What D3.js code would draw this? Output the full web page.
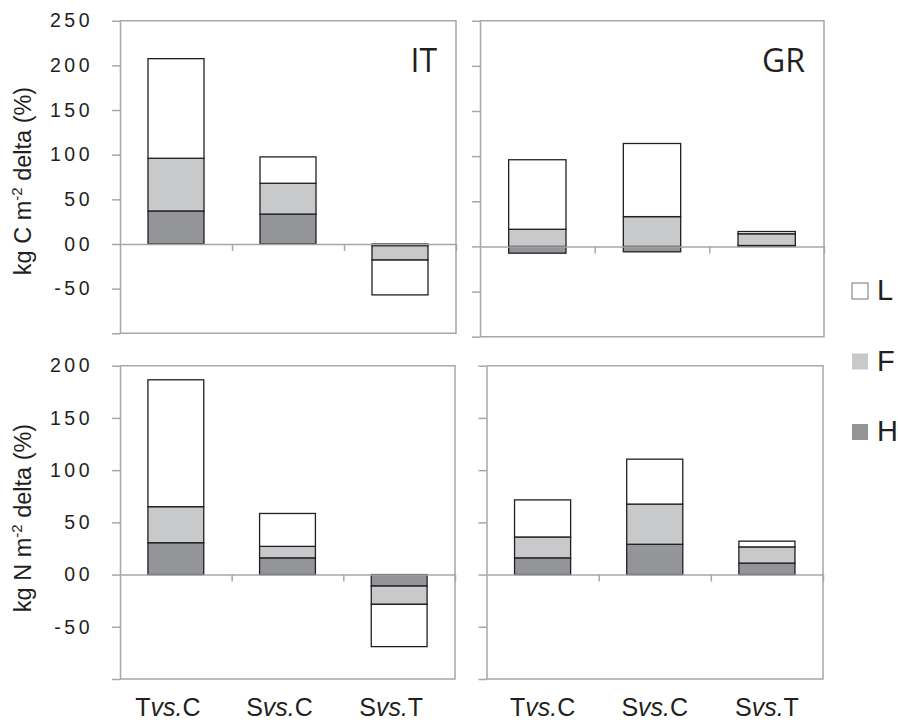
<!DOCTYPE html>
<html>
<head>
<meta charset="utf-8">
<script src="https://cdn.jsdelivr.net/npm/d3@7"></script>
<style>
  body { margin: 0; background: #fff; }
  svg { display: block; }
</style>
</head>
<body>
<svg id="chart" width="898" height="720"></svg>
<script>
const categories = ["Tvs.C", "Svs.C", "Svs.T"];
const keys = ["H", "F", "L"];

// carbon, Italy / Greece
const cIT_H = [37, 33.5, -2];
const cIT_F = [59, 34.5, -16];
const cIT_L = [111.5, 29.5, -39];
const cGR_H = [-7.5, -6, 1];
const cGR_F = [19, 33, 13];
const cGR_L = [77, 81, 2.5];

// nitrogen, Italy / Greece
const nIT_H = [30.5, 16, -11];
const nIT_F = [34.5, 11, -17.5];
const nIT_L = [121.5, 31.5, -40.5];
const nGR_H = [16, 29, 11];
const nGR_F = [20, 38.5, 15.5];
const nGR_L = [35.5, 43, 5.5];

const cTicks = [-100, -50, 0, 50, 100, 150, 200, 250];
const cTickLabels = ["", "-50", "00", "50", "100", "150", "200", "250"];
const nTicks = [-100, -50, 0, 50, 100, 150, 200];
const nTickLabels = ["", "-50", "00", "50", "100", "150", "200"];

const colors = { H: "#939598", F: "#c8c9cb", L: "#ffffff" };
const axisGrey = "#a7a7a7";

const svg = d3.select("#chart");

const panels = [
  { H: cIT_H, F: cIT_F, L: cIT_L, ticks: cTicks, labels: cTickLabels, showLabels: true,
    box: [120, 456, 20.7, 333.3], name: "IT", xlab: false, dx: 0 },
  { H: cGR_H, F: cGR_F, L: cGR_L, ticks: cTicks, labels: cTickLabels, showLabels: false,
    box: [480, 824, 20.7, 336.7], name: "GR", xlab: false, dx: 0 },
  { H: nIT_H, F: nIT_F, L: nIT_L, ticks: nTicks, labels: nTickLabels, showLabels: true,
    box: [120, 455, 365.7, 679], name: "", xlab: true, dx: -8 },
  { H: nGR_H, F: nGR_F, L: nGR_L, ticks: nTicks, labels: nTickLabels, showLabels: false,
    box: [486.5, 823, 365.7, 679], name: "", xlab: true, dx: 0 }
];

panels.forEach(p => drawPanel(p));

function drawPanel(p) {
  const [x0, x1, yTop, yBot] = p.box;
  const ticks = p.ticks;

  const x = d3.scaleBand().domain(categories).range([x0, x1]).paddingInner(0.5).paddingOuter(0.25);
  const y = d3.scaleLinear().domain([d3.min(ticks), d3.max(ticks)]).range([yBot, yTop]);

  const rows = categories.map((c, i) => ({ cat: c, H: p.H[i], F: p.F[i], L: p.L[i] }));
  const series = d3.stack().keys(keys).offset(d3.stackOffsetDiverging)(rows);

  const g = svg.append("g");

  // frame
  g.append("path")
    .attr("d", `M${x0},${yTop}H${x1}V${yBot}H${x0}`)
    .attr("fill", "none")
    .attr("stroke", axisGrey)
    .attr("stroke-width", 1.5);

  // y axis
  const yAxis = g.append("g")
    .attr("transform", `translate(${x0},0)`)
    .call(d3.axisLeft(y)
      .tickValues(ticks)
      .tickSize(8)
      .tickSizeOuter(0)
      .tickPadding(19)
      .tickFormat((d, i) => p.showLabels ? p.labels[i] : ""));
  yAxis.selectAll("path, line").attr("stroke", axisGrey).attr("stroke-width", 1.5);
  yAxis.selectAll("text")
    .attr("fill", "#231f20")
    .style("font-family", "'Liberation Sans', Arial, sans-serif")
    .style("font-size", "19.5px")
    .style("letter-spacing", "3.5px");

  // bars
  g.selectAll("g.layer")
    .data(series)
    .join("g")
    .attr("class", "layer")
    .attr("fill", d => colors[d.key])
    .selectAll("rect")
    .data(d => d)
    .join("rect")
    .attr("x", d => x(d.data.cat))
    .attr("width", x.bandwidth())
    .attr("y", d => y(Math.max(d[0], d[1])))
    .attr("height", d => Math.abs(y(d[0]) - y(d[1])))
    .attr("stroke", "#231f20")
    .attr("stroke-width", 1.3);

  // zero line and category ticks
  const edge = d3.scaleLinear().domain([0, categories.length]).range([x0, x1]);
  const xAxis = g.append("g")
    .attr("transform", `translate(0,${y(0)})`)
    .call(d3.axisBottom(edge)
      .tickValues(d3.range(1, categories.length + 1))
      .tickSize(7)
      .tickSizeOuter(0)
      .tickFormat(""));
  xAxis.selectAll("path, line").attr("stroke", axisGrey).attr("stroke-width", 1.5);

  // panel name
  if (p.name) {
    g.append("text")
      .attr("x", x1 - 19)
      .attr("y", yTop + 51)
      .attr("text-anchor", "end")
      .attr("fill", "#231f20")
      .style("font-family", "'Open Sans', sans-serif")
      .style("font-size", "32px")
      .text(p.name);
  }

  // category labels
  if (p.xlab) {
    const t = g.selectAll("text.cat")
      .data(categories)
      .join("text")
      .attr("class", "cat")
      .attr("x", d => x(d) + x.bandwidth() / 2 + p.dx)
      .attr("y", 716)
      .attr("text-anchor", "middle")
      .attr("fill", "#231f20")
      .style("font-family", "'Liberation Sans', Arial, sans-serif")
      .style("font-size", "25px");
    t.each(function(d) {
      const parts = d.split("vs.");
      const el = d3.select(this);
      el.append("tspan").text(parts[0]);
      el.append("tspan").style("font-style", "italic").text("vs.");
      el.append("tspan").text(parts[1]);
    });
  }
}

// y titles
function yTitle(cy, elem) {
  const t = svg.append("text")
    .attr("transform", `translate(31,${cy}) rotate(-90)`)
    .attr("text-anchor", "middle")
    .attr("fill", "#231f20")
    .style("font-family", "'Liberation Sans', Arial, sans-serif")
    .style("font-size", "23.5px");
  t.append("tspan").text(`kg ${elem} m`);
  t.append("tspan").attr("dy", -9).style("font-size", "15px").text("-2");
  t.append("tspan").attr("dy", 9).text(" delta (%)");
}
yTitle(181, "C");
yTitle(518, "N");

// legend
const legendKeys = ["L", "F", "H"];
const legend = svg.append("g")
  .selectAll("g")
  .data(legendKeys)
  .join("g")
  .attr("transform", (d, i) => `translate(852,${283 + i * 70.5})`);
legend.append("rect")
  .attr("width", 16)
  .attr("height", 16)
  .attr("fill", d => colors[d])
  .attr("stroke", d => d === "L" ? "#777" : "none")
  .attr("stroke-width", 1);
legend.append("text")
  .attr("x", 25)
  .attr("y", 17)
  .attr("fill", "#231f20")
  .style("font-family", "'Liberation Sans', Arial, sans-serif")
  .style("font-size", "29px")
  .text(d => d);
</script>
</body>
</html>
